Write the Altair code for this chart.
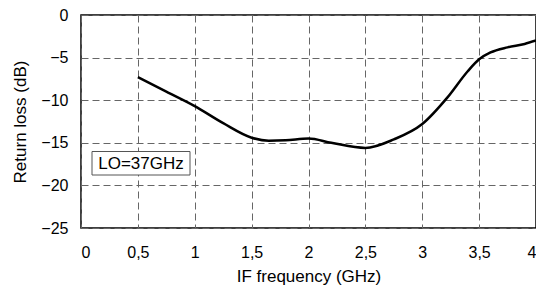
import altair as alt
import pandas as pd

freq = [0.5, 0.75, 1.0, 1.25, 1.5, 1.65, 1.8, 2.0, 2.2, 2.5, 2.75, 3.0, 3.22, 3.4, 3.5, 3.6, 3.75, 3.9, 4.0]
rl = [-7.3, -9.0, -10.7, -12.7, -14.4, -14.75, -14.7, -14.5, -15.0, -15.6, -14.6, -12.8, -9.7, -6.6, -5.2, -4.4, -3.8, -3.4, -3.0]
x_ticks = [0, 0.5, 1, 1.5, 2, 2.5, 3, 3.5, 4]
y_ticks = [0, -5, -10, -15, -20, -25]
label_text = ["LO=37GHz"]

df = pd.DataFrame({"f": freq, "rl": rl})
FONT = "Liberation Sans"
GRID = "#666"

line = alt.Chart(df).mark_line(color="black", strokeWidth=2.5, interpolate="monotone").encode(
    x=alt.X("f:Q", scale=alt.Scale(domain=[0, 4], nice=False),
            axis=alt.Axis(values=x_ticks, title="IF frequency (GHz)",
                          labelExpr="replace(format(datum.value, '.1~f'), '.', ',')",
                          grid=True, gridDash=[7, 4], gridColor=GRID, gridWidth=1,
                          ticks=False, domain=False, labelPadding=16, titlePadding=8,
                          labelFontSize=16, titleFontSize=17, titleFontWeight="normal",
                          labelColor="black", titleColor="black", labelFont=FONT, titleFont=FONT)),
    y=alt.Y("rl:Q", scale=alt.Scale(domain=[-25, 0], nice=False),
            axis=alt.Axis(values=y_ticks, title="Return loss (dB)",
                          grid=True, gridDash=[7, 4], gridColor=GRID, gridWidth=1,
                          ticks=False, domain=False, labelPadding=13, titlePadding=11,
                          labelFontSize=16, titleFontSize=17, titleFontWeight="normal",
                          labelColor="black", titleColor="black", labelFont=FONT, titleFont=FONT)),
)

lab = pd.DataFrame({"t": label_text})
box = alt.Chart(lab).mark_rect(fill="white", stroke="#555", strokeWidth=1).encode(
    x=alt.value(11), x2=alt.value(109), y=alt.value(136.5), y2=alt.value(160)
)
txt = alt.Chart(lab).mark_text(fontSize=17, font=FONT, color="black").encode(
    x=alt.value(60), y=alt.value(149), text="t:N"
)

chart = alt.layer(line, box, txt).properties(
    width=455, height=213,
    background="white",
    autosize=alt.AutoSizeParams(type="none"),
    padding={"left": 73, "top": 7, "right": 0, "bottom": 57},
).configure_view(stroke="black", strokeWidth=1.5)

chart.save("out.html", embed_options={"renderer": "svg", "actions": False})
